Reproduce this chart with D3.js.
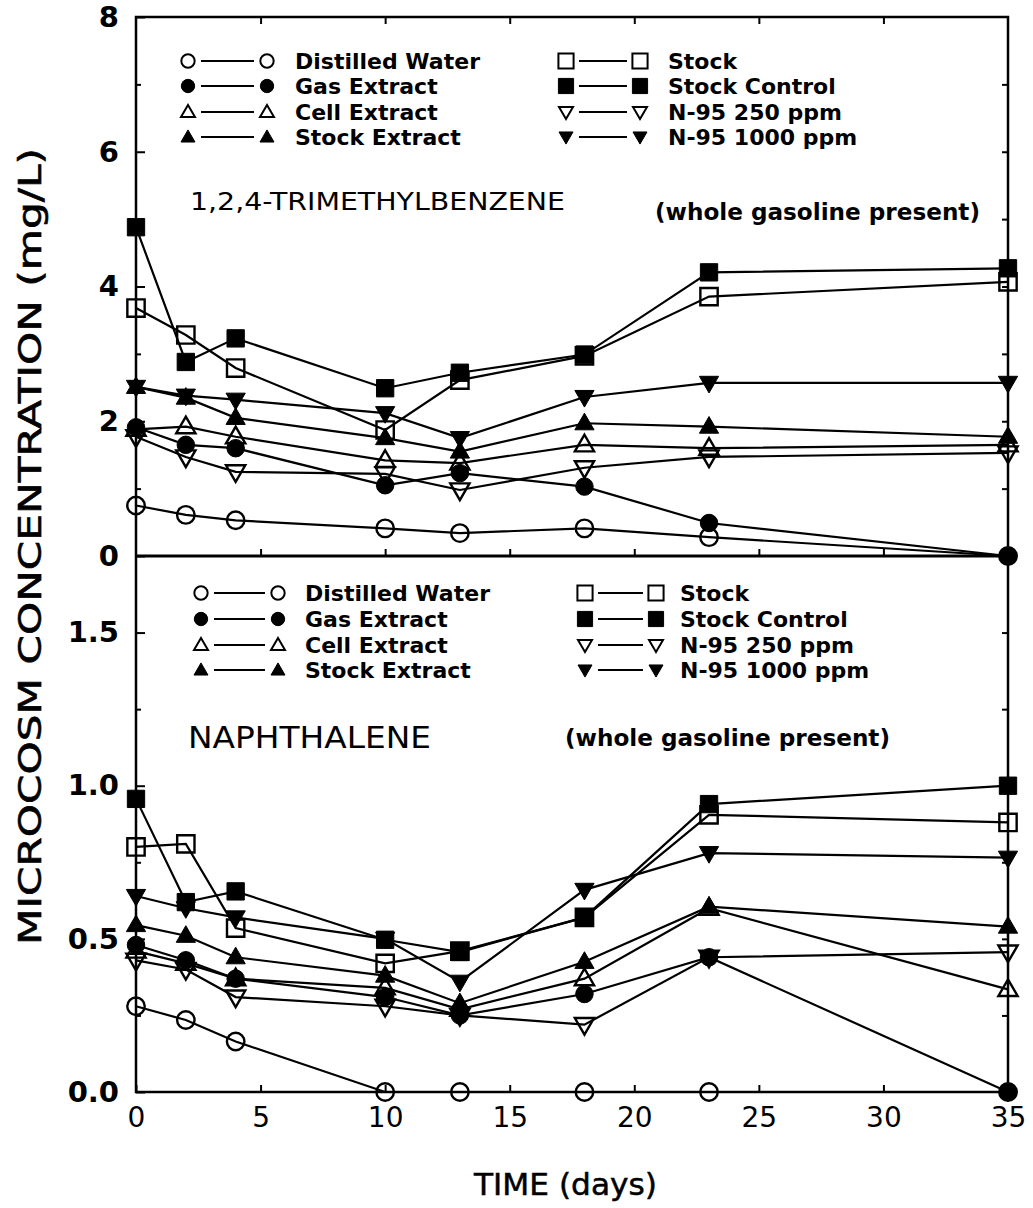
<!DOCTYPE html>
<html><head><meta charset="utf-8">
<script src="https://cdn.jsdelivr.net/npm/d3@7"></script>
<style>body{margin:0;background:#fff}</style>
</head><body><svg id="c" width="1033" height="1208"></svg>
<script>
// ---------- DATA ----------
const days = [0, 2, 4, 10, 13, 18, 23, 35];
const seriesNames = ["Distilled Water", "Gas Extract", "Cell Extract", "Stock Extract",
                     "Stock", "Stock Control", "N-95 250 ppm", "N-95 1000 ppm"];

// 1,2,4-Trimethylbenzene (mg/L)
const tmbDistilledWater = [0.75, 0.61, 0.53, 0.41, 0.34, 0.41, 0.28, 0];
const tmbGasExtract     = [1.91, 1.65, 1.60, 1.05, 1.23, 1.03, 0.49, 0];
const tmbCellExtract    = [1.88, 1.92, 1.77, 1.42, 1.38, 1.65, 1.60, 1.65];
const tmbStockExtract   = [2.51, 2.35, 2.05, 1.75, 1.55, 1.97, 1.92, 1.77];
const tmbStock          = [3.68, 3.28, 2.79, 1.87, 2.61, 2.97, 3.85, 4.07];
const tmbStockControl   = [4.88, 2.88, 3.23, 2.49, 2.72, 2.99, 4.21, 4.27];
const tmbN95_250        = [1.77, 1.47, 1.25, 1.22, 0.98, 1.31, 1.47, 1.53];
const tmbN95_1000       = [2.51, 2.38, 2.32, 2.12, 1.75, 2.36, 2.57, 2.57];

// Naphthalene (mg/L)
const napDistilledWater = [0.28, 0.235, 0.165, 0, 0, 0, 0, 0];
const napGasExtract     = [0.48, 0.43, 0.37, 0.31, 0.25, 0.32, 0.44, 0];
const napCellExtract    = [0.46, 0.42, 0.37, 0.34, 0.27, 0.37, 0.60, 0.335];
const napStockExtract   = [0.545, 0.51, 0.44, 0.38, 0.29, 0.425, 0.605, 0.54];
const napStock          = [0.80, 0.81, 0.535, 0.42, 0.46, 0.57, 0.905, 0.88];
const napStockControl   = [0.957, 0.62, 0.655, 0.497, 0.457, 0.57, 0.94, 1.0];
const napN95_250        = [0.43, 0.40, 0.31, 0.28, 0.25, 0.22, 0.44, 0.457];
const napN95_1000       = [0.64, 0.60, 0.57, 0.50, 0.36, 0.66, 0.78, 0.765];

const xTicks = [0, 5, 10, 15, 20, 25, 30, 35];
const topYTicks = [0, 2, 4, 6, 8];
const topYMinor = [1, 3, 5, 7];
const botYTicks = [0, 0.5, 1.0, 1.5];
const botYMinor = [0.25, 0.75, 1.25];

// ---------- SETUP ----------
const svg = d3.select("#c");
svg.append("rect").attr("width", 1033).attr("height", 1208).attr("fill", "#fff");

const L = 136, R = 1008, T = 17, M = 556, B = 1092;
const x = d3.scaleLinear().domain([0, 35]).range([L, R]);
const yTop = d3.scaleLinear().domain([0, 8]).range([M, T]);
const yBot = d3.scaleLinear().domain([0, 1.75]).range([B, M]);

const marks = [
  {shape: d3.symbolCircle, fill: false, rot: 0},
  {shape: d3.symbolCircle, fill: true, rot: 0},
  {shape: d3.symbolTriangle, fill: false, rot: 0},
  {shape: d3.symbolTriangle, fill: true, rot: 0},
  {shape: d3.symbolSquare, fill: false, rot: 0},
  {shape: d3.symbolSquare, fill: true, rot: 0},
  {shape: d3.symbolTriangle, fill: false, rot: 180},
  {shape: d3.symbolTriangle, fill: true, rot: 180}
];
function symSize(shape, big) {
  if (shape === d3.symbolCircle) return big ? 240 : 140;
  if (shape === d3.symbolSquare) return big ? 300 : 230;
  return big ? 160 : 85;
}

function drawAxes(g) {
  g.selectAll("path.domain").remove();
  g.selectAll("line").attr("stroke", "#000").attr("stroke-width", 2);
}

// ---------- AXES ----------
const fontNum = "DejaVu Sans, Liberation Sans, sans-serif";
const gTL = svg.append("g").attr("transform", `translate(${L},0)`)
  .call(d3.axisLeft(yTop).tickValues(topYTicks).tickSize(-9).tickPadding(17).tickFormat(d3.format("d")));
const gTLm = svg.append("g").attr("transform", `translate(${L},0)`)
  .call(d3.axisLeft(yTop).tickValues(topYMinor).tickSize(-5).tickFormat(""));
const gTR = svg.append("g").attr("transform", `translate(${R},0)`)
  .call(d3.axisRight(yTop).tickValues(d3.range(1, 8)).tickSize(-6).tickFormat(""));
const gTT = svg.append("g").attr("transform", `translate(0,${T})`)
  .call(d3.axisTop(x).tickValues([5, 10, 15, 20, 25, 30]).tickSize(-7).tickFormat(""));
const gTB = svg.append("g").attr("transform", `translate(0,${M})`)
  .call(d3.axisBottom(x).tickValues([5, 10, 15, 20, 25, 30]).tickSize(-7).tickFormat(""));
const gBL = svg.append("g").attr("transform", `translate(${L},0)`)
  .call(d3.axisLeft(yBot).tickValues(botYTicks).tickSize(-9).tickPadding(17).tickFormat(d3.format(".1f")));
const gBLm = svg.append("g").attr("transform", `translate(${L},0)`)
  .call(d3.axisLeft(yBot).tickValues(botYMinor).tickSize(-5).tickFormat(""));
const gBR = svg.append("g").attr("transform", `translate(${R},0)`)
  .call(d3.axisRight(yBot).tickValues([0.25, 0.5, 0.75, 1.0, 1.25, 1.5]).tickSize(-6).tickFormat(""));
const gBB = svg.append("g").attr("transform", `translate(0,${B})`)
  .call(d3.axisBottom(x).tickValues(xTicks).tickSize(-7).tickPadding(15).tickFormat(d3.format("d")));

[gTL, gTLm, gTR, gTT, gTB, gBL, gBLm, gBR, gBB].forEach(drawAxes);
[gTL, gBL].forEach(g => g.selectAll("text")
  .attr("font-family", fontNum).attr("font-size", 29).attr("font-weight", "bold").attr("fill", "#000"));
gBB.selectAll("text").attr("font-family", fontNum).attr("font-size", 28).attr("fill", "#000");

// frame
svg.append("rect").attr("x", L).attr("y", T).attr("width", R - L).attr("height", B - T)
  .attr("fill", "none").attr("stroke", "#000").attr("stroke-width", 2.5);
svg.append("line").attr("x1", L).attr("x2", R).attr("y1", M).attr("y2", M)
  .attr("stroke", "#000").attr("stroke-width", 3);

// ---------- DATA MARKS ----------
function drawPanel(yScale, seriesList) {
  const g = svg.append("g");
  seriesList.forEach((vals) => {
    const pts = days.map((d, k) => [d, vals[k]]);
    g.append("path").datum(pts)
      .attr("fill", "none").attr("stroke", "#000").attr("stroke-width", 2.2)
      .attr("d", d3.line().x(p => x(p[0])).y(p => yScale(p[1])));
  });
  seriesList.forEach((vals, i) => {
    const m = marks[i];
    const sym = d3.symbol().type(m.shape).size(symSize(m.shape, true));
    g.selectAll(null).data(days.map((d, k) => [d, vals[k]])).join("path")
      .attr("transform", p => `translate(${x(p[0])},${yScale(p[1]) + (m.shape === d3.symbolTriangle ? (m.rot ? -1 : 1) : 0)}) rotate(${m.rot})`)
      .attr("d", sym)
      .attr("fill", m.fill ? "#000" : "none")
      .attr("stroke", "#000").attr("stroke-width", m.fill ? 1 : 2.4);
  });
}
drawPanel(yTop, [tmbDistilledWater, tmbGasExtract, tmbCellExtract, tmbStockExtract,
                 tmbStock, tmbStockControl, tmbN95_250, tmbN95_1000]);
drawPanel(yBot, [napDistilledWater, napGasExtract, napCellExtract, napStockExtract,
                 napStock, napStockControl, napN95_250, napN95_1000]);

// ---------- LEGENDS ----------
const fontTxt = "DejaVu Sans, sans-serif";
function legend(idxs, x1, x2, xt, ys) {
  const g = svg.append("g");
  idxs.forEach((si, r) => {
    const m = marks[si];
    const yy = ys[r];
    g.append("line").attr("x1", x1 + 13).attr("x2", x2 - 13).attr("y1", yy).attr("y2", yy)
      .attr("stroke", "#000").attr("stroke-width", 2);
    [x1, x2].forEach(xx => {
      g.append("path")
        .attr("transform", `translate(${xx},${yy + (m.shape === d3.symbolTriangle ? (m.rot ? -1 : 1) : 0)}) rotate(${m.rot})`)
        .attr("d", d3.symbol().type(m.shape).size(symSize(m.shape, false)))
        .attr("fill", m.fill ? "#000" : "#fff")
        .attr("stroke", "#000").attr("stroke-width", m.fill ? 1 : 2);
    });
    g.append("text").attr("x", xt).attr("y", yy + 8)
      .attr("font-family", fontTxt).attr("font-weight", "bold").attr("font-size", 22)
      .attr("fill", "#000").text(seriesNames[si]);
  });
}
legend([0, 1, 2, 3], 188, 267, 295, [61, 86, 112, 137]);
legend([4, 5, 6, 7], 566, 640, 668, [61, 86, 112, 137]);
legend([0, 1, 2, 3], 201, 278, 305, [593, 619, 645, 670]);
legend([4, 5, 6, 7], 585, 656, 680, [593, 619, 645, 670]);

// ---------- TITLES ----------
function txt(s, xx, yy, size, weight, len) {
  const t = svg.append("text").attr("x", xx).attr("y", yy)
    .attr("font-family", fontTxt).attr("font-size", size).attr("font-weight", weight)
    .attr("fill", "#000").text(s);
  if (len) t.attr("textLength", len).attr("lengthAdjust", "spacingAndGlyphs");
  return t;
}
txt("1,2,4-TRIMETHYLBENZENE", 190, 210, 24, "normal", 375);
txt("(whole gasoline present)", 655, 220, 23, "bold", 325);
txt("NAPHTHALENE", 188, 748, 31, "normal", 243);
txt("(whole gasoline present)", 565, 746, 23, "bold", 325);

// axis titles
txt("TIME  (days)", 474, 1195, 30, "normal", 183).attr("stroke", "#000").attr("stroke-width", 0.5);
svg.append("text")
  .attr("transform", "translate(41,945) rotate(-90)")
  .attr("font-family", fontTxt).attr("font-size", 32)
  .attr("textLength", 797).attr("lengthAdjust", "spacingAndGlyphs")
  .attr("stroke", "#000").attr("stroke-width", 0.6)
  .attr("fill", "#000").text("MICROCOSM CONCENTRATION  (mg/L)");
</script>
</body></html>
